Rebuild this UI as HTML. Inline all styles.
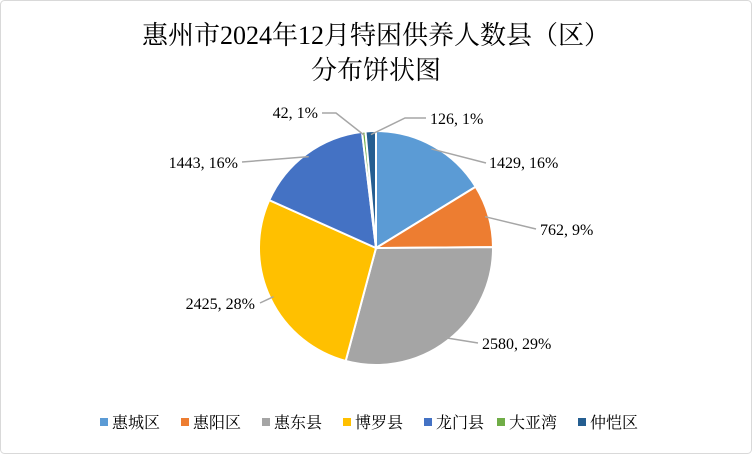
<!DOCTYPE html>
<html><head><meta charset="utf-8"><style>
body{margin:0;background:#fff}
svg{display:block;font-family:"Liberation Serif","Noto Serif CJK SC",serif}
</style></head><body>
<svg id="c" width="752" height="454" viewBox="0 0 752 454">
<rect x="0.5" y="0.5" width="751" height="453" rx="4" fill="#fff" stroke="#d9d9d9"/>
<text x="376" y="44" text-anchor="middle" font-size="26" fill="#000">惠州市2024年12月特困供养人数县（区）</text>
<text x="376" y="79" text-anchor="middle" font-size="26" fill="#000">分布饼状图</text>
<g id="slices"></g><g id="labels"></g><g id="legend"></g>
</svg>
<script>
const categories=["惠城区","惠阳区","惠东县","博罗县","龙门县","大亚湾","仲恺区"];
const values=[1429,762,2580,2425,1443,42,126];
const percents=[16,9,29,28,16,1,1];
const colors=["#5b9bd5","#ed7d31","#a5a5a5","#ffc000","#4472c4","#70ad47","#255e91"];
const labelAnchors=[[489,168,"start",486,163],[540,235,"start",536,229],[482,349,"start",478,343],[255,309,"end",260,303],[238,168,"end",242,162],[318,118,"end",336,113],[430,124,"start",405,118]];
const legendX=[100,181,262,343,424,497,578];
const NS="http://www.w3.org/2000/svg";
const cx=376,cy=248,r=117;
const total=values.reduce((a,b)=>a+b,0);
const sg=document.getElementById("slices"),lg=document.getElementById("labels"),leg=document.getElementById("legend");
function pt(a,rr){return [cx+rr*Math.sin(a),cy-rr*Math.cos(a)];}
let a0=0;
values.forEach((v,i)=>{
 const a1=a0+v/total*2*Math.PI;
 const p0=pt(a0,r),p1=pt(a1,r);
 const p=document.createElementNS(NS,"path");
 p.setAttribute("d",`M${cx},${cy}L${p0[0]},${p0[1]}A${r},${r} 0 ${a1-a0>Math.PI?1:0} 1 ${p1[0]},${p1[1]}Z`);
 p.setAttribute("fill",colors[i]);p.setAttribute("stroke","#fff");p.setAttribute("stroke-width","2");
 
 
 sg.appendChild(p);
 const mid=(a0+a1)/2,e=pt(mid,r*0.97);
 const la=labelAnchors[i];
 const l=document.createElementNS(NS,"polyline");
 let pts=`${e[0]},${e[1]} ${la[3]},${la[4]}`;
 if(i===5) pts+=` 322,${la[4]}`;
 if(i===6) pts+=` 426,${la[4]}`;
 l.setAttribute("points",pts);
 l.setAttribute("stroke","#a6a6a6");l.setAttribute("fill","none");l.setAttribute("stroke-width","1.5");
 
 
 lg.appendChild(l);
 const t=document.createElementNS(NS,"text");
 t.setAttribute("x",la[0]);t.setAttribute("y",la[1]);t.setAttribute("text-anchor",la[2]);t.setAttribute("font-size","16");
 t.textContent=v+", "+percents[i]+"%";
 
 
 lg.appendChild(t);
 const m=document.createElementNS(NS,"rect");
 m.setAttribute("x",legendX[i]);m.setAttribute("y",418);m.setAttribute("width",8);m.setAttribute("height",8);m.setAttribute("fill",colors[i]);
 
 
 leg.appendChild(m);
 const lt=document.createElementNS(NS,"text");
 lt.setAttribute("x",legendX[i]+12);lt.setAttribute("y",428);lt.setAttribute("font-size","16");
 lt.textContent=categories[i];
 
 
 leg.appendChild(lt);
 a0=a1;
});
</script>
</body></html>
